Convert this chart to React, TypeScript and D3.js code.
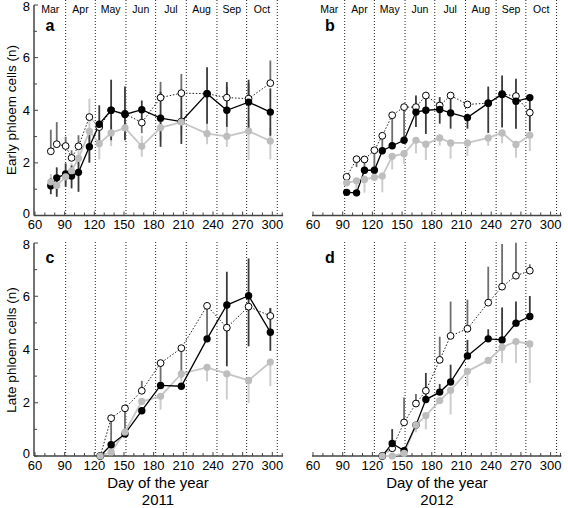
import React from "react";
import * as d3 from "d3";

// ---------- data ----------
const months = ["Mar", "Apr", "May", "Jun", "Jul", "Aug", "Sep", "Oct"];
const monthStart2011 = [60, 91, 121, 152, 182, 213, 244, 274, 305];
const monthStart2012 = [61, 92, 122, 153, 183, 214, 245, 275, 306];
const xTickValues = d3.range(60, 311, 10);
const xLabelValues = [60, 90, 120, 150, 180, 210, 240, 270, 300];
const yTickValues = [0, 1, 2, 3, 4, 5, 6, 7, 8];
const yLabelValues = [0, 2, 4, 6, 8];

// 2011 early phloem (a)
const aDays = [76, 82, 91, 97, 104, 115, 125, 137, 151, 168, 187, 208, 234, 254, 276, 298];
const aBlack = [1.13, 1.43, 1.58, 1.5, 1.64, 2.61, 3.47, 4.0, 3.84, 4.02, 3.7, 3.57, 4.63, 4.0, 4.31, 3.93];
const aOpen = [2.44, 2.71, 2.64, 2.19, 2.63, 3.74, 3.36, 4.0, 3.87, 3.53, 4.48, 4.65, 4.63, 4.48, 4.44, 5.03];
const aGray = [1.28, 1.14, 1.47, 1.7, 2.17, 3.2, 2.73, 3.14, 3.33, 2.63, 3.34, 3.55, 3.11, 3.01, 3.21, 2.83];
const aBlackErr = [[0.32, 0.3], [0.72, 0.4], [0.49, 0.4], [0.47, 0.4], [0.74, 0.5], [0.6, 0.6], [0.86, 0.72], [1.14, 1.16], [0.98, 1.06], [0.4, 0.35], [1.09, 1.0], [0.85, 1.0], [1.14, 1.0], [0.63, 1.07], [1.0, 0.85], [0.9, 0.9]];
const aOpenErr = [[0, 0.82], [0, 0.84], [0, 0.35], [0, 0.29], [0, 0.42], [0, 0], [0, 0], [0, 0], [0, 0], [0.4, 0], [0, 0.6], [0, 0.73], [0, 0], [0, 0.4], [0, 0.6], [0, 0.86]];
const aGrayErr = [[0.3, 0.3], [0.3, 0.3], [0.3, 0.2], [0.3, 0.3], [0.3, 0.3], [1.2, 1.24], [0.6, 0.4], [0.5, 0.4], [0.4, 0.4], [0.4, 0.4], [0.5, 0.5], [0.5, 0.5], [0.4, 0.4], [0.4, 0.4], [1.1, 0.5], [0.7, 0.5]];

// 2012 early phloem (b)
const bDays = [94, 104, 112, 122, 130, 140, 152, 164, 174, 188, 199, 216, 237, 251, 265, 279];
const bBlack = [0.88, 0.86, 1.72, 1.72, 2.46, 2.65, 2.86, 3.93, 4.0, 4.03, 3.9, 3.72, 4.27, 4.6, 4.34, 4.48];
const bOpen = [1.47, 2.14, 2.13, 2.48, 3.03, 3.81, 4.12, 4.12, 4.56, 4.18, 4.56, 4.22, 4.27, 4.62, 4.54, 3.91];
const bGray = [1.24, 1.32, 1.37, 1.45, 1.5, 2.25, 2.35, 2.86, 2.71, 2.95, 2.76, 2.76, 2.95, 3.14, 2.7, 3.05];
const bBlackErr = [[0.1, 0.1], [0.1, 0.1], [0, 0], [0, 0], [0, 0], [0, 0], [0, 0], [0.57, 0.63], [0.9, 0.5], [0.54, 0.47], [0.6, 0.6], [0.42, 0.15], [1.13, 0.63], [1.26, 0.72], [1.04, 0.86], [1.28, 0.08]];
const bOpenErr = [[0, 0], [0.3, 0], [0.41, 0], [0.76, 0], [0.57, 0], [1.16, 0], [1.26, 0], [0, 0], [0, 0], [0.3, 0], [0, 0], [0, 0], [0, 0], [0, 0], [0, 0], [0, 0]];
const bGrayErr = [[0, 0], [0.6, 0], [0.5, 0], [0, 0], [0.62, 0], [0.5, 0], [0.4, 0], [0.5, 0], [0.6, 0], [0.3, 0], [0.6, 0], [0.5, 0], [0.3, 0], [0.4, 0], [0.5, 0], [0.6, 0]];

// 2011 late phloem (c)
const cDays = [126, 137, 151, 168, 187, 208, 234, 254, 276, 298];
const cBlack = [0, 0.42, 0.83, 1.7, 2.65, 2.62, 4.4, 5.67, 6.02, 4.65];
const cOpen = [0, 1.42, 1.79, 2.45, 3.49, 4.05, 5.64, 4.82, 5.61, 5.26];
const cGray = [0, 0.15, 0.9, 2.05, 2.24, 3.09, 3.33, 3.09, 2.84, 3.53];
const cBlackErr = [[0, 0], [0, 0], [0, 0], [0, 0], [0, 0], [0, 0], [0, 0], [2.3, 1.25], [1.9, 1.4], [0.7, 0.9]];
const cOpenErr = [[0, 0], [1.42, 0], [0.95, 0], [0, 0.37], [0.84, 0], [1.1, 0], [1.27, 0], [0, 0], [0, 0], [0, 0.3]];
const cGrayErr = [[0, 0], [0, 0], [0, 0], [0, 0], [0.5, 0], [0.3, 0], [0.53, 0], [0.97, 0], [0.85, 0], [0.9, 0]];

// 2012 late phloem (d)
const dDays = [130, 140, 152, 164, 174, 188, 199, 216, 237, 251, 265, 279];
const dBlack = [0, 0.47, 0.2, 1.16, 2.12, 2.4, 2.78, 3.76, 4.4, 4.36, 4.99, 5.24];
const dOpen = [0, 0.29, 1.26, 1.97, 2.45, 3.61, 4.51, 4.78, 5.76, 6.36, 6.77, 6.96];
const dGray = [0, 0, 0.1, 1.16, 1.52, 2.08, 2.47, 3.18, 3.59, 4.08, 4.3, 4.21];
const dBlackErr = [[0, 0], [0, 0.54], [0, 0], [0, 0], [0, 1.0], [0, 0.3], [0, 0.65], [0, 0.6], [0, 0.36], [0, 1.22], [0, 0.81], [0, 0.77]];
const dOpenErr = [[0, 0], [0, 0], [0, 0.94], [0, 0.36], [0, 0], [0, 0.87], [0, 1.29], [0, 1.09], [0, 1.35], [0, 1.6], [0, 1.24], [0, 0.24]];
const dGrayErr = [[0, 0], [0, 0], [0, 0], [0.27, 0], [0.52, 0], [0, 0], [0.91, 0], [0.56, 0], [0, 0], [0.59, 0], [0.81, 0], [1.47, 0]];

// ---------- layout ----------
const FONT = "'Liberation Sans', Arial, Helvetica, sans-serif";

type Panel = {
  letter: string;
  left: boolean;
  top: boolean;
  days: number[];
  black: number[];
  open: number[];
  gray: number[];
  blackErr: number[][];
  openErr: number[][];
  grayErr: number[][];
  monthStarts: number[];
};

const panels: Panel[] = [
  { letter: "a", left: true, top: true, days: aDays, black: aBlack, open: aOpen, gray: aGray, blackErr: aBlackErr, openErr: aOpenErr, grayErr: aGrayErr, monthStarts: monthStart2011 },
  { letter: "b", left: false, top: true, days: bDays, black: bBlack, open: bOpen, gray: bGray, blackErr: bBlackErr, openErr: bOpenErr, grayErr: bGrayErr, monthStarts: monthStart2012 },
  { letter: "c", left: true, top: false, days: cDays, black: cBlack, open: cOpen, gray: cGray, blackErr: cBlackErr, openErr: cOpenErr, grayErr: cGrayErr, monthStarts: monthStart2011 },
  { letter: "d", left: false, top: false, days: dDays, black: dBlack, open: dOpen, gray: dGray, blackErr: dBlackErr, openErr: dOpenErr, grayErr: dGrayErr, monthStarts: monthStart2012 },
];

function PanelView({ p }: { p: Panel }) {
  const x = d3.scaleLinear().domain([59, 311]).range(p.left ? [34, 283.2] : [312, 561.5]);
  const y = d3.scaleLinear().domain([0, 8]).range(p.top ? [215.5, 5] : [456, 243]);
  const [x0, x1] = x.range();
  const yBase = y(0);
  const dotTop = p.top ? 0 : 242;
  const line = d3
    .line<[number, number]>()
    .x((d) => x(d[0]))
    .y((d) => y(d[1]));
  const pts = (vals: number[]) => p.days.map((d, i) => [d, vals[i]] as [number, number]);

  const errBars = (vals: number[], errs: number[][], color: string, w: number, key: string) =>
    p.days.map((d, i) => {
      const [lo, hi] = errs[i];
      if (lo === 0 && hi === 0) return null;
      return (
        <line
          key={key + i}
          x1={x(d)}
          x2={x(d)}
          y1={y(Math.max(0, vals[i] - lo))}
          y2={y(vals[i] + hi)}
          stroke={color}
          strokeWidth={w}
        />
      );
    });

  return (
    <g>
      {/* month boundaries */}
      {p.monthStarts.slice(1).map((m) => (
        <line key={"m" + m} x1={x(m)} x2={x(m)} y1={dotTop} y2={yBase} stroke="#222" strokeWidth={1} strokeDasharray="1,2" />
      ))}
      {p.top &&
        months.map((m, i) => (
          <text
            key={m}
            x={(x(p.monthStarts[i]) + x(p.monthStarts[i + 1])) / 2}
            y={12.5}
            textAnchor="middle"
            fontSize={10.5}
            fontFamily={FONT}
          >
            {m}
          </text>
        ))}
      <text x={p.left ? 50 : 330} y={p.top ? 30.5 : 263} textAnchor="middle" fontSize={16} fontWeight="bold" fontFamily={FONT}>
        {p.letter}
      </text>

      {/* x axis */}
      <line x1={x0} x2={x1} y1={yBase} y2={yBase} stroke="#444" strokeWidth={1.5} />
      {xTickValues.map((t) => (
        <line key={"xt" + t} x1={x(t)} x2={x(t)} y1={yBase} y2={yBase - (t % 30 === 0 ? 4 : 3)} stroke="#444" strokeWidth={1} />
      ))}
      {xLabelValues.map((t) => (
        <text key={"xl" + t} x={x(t)} y={yBase + 13.5} textAnchor="middle" fontSize={13} fontFamily={FONT}>
          {t}
        </text>
      ))}

      {/* y axis */}
      {p.left && (
        <g>
          <line x1={x0} x2={x0} y1={y(8)} y2={yBase} stroke="#444" strokeWidth={1.5} />
          {yTickValues.map((t) => (
            <line key={"yt" + t} x1={x0} x2={x0 + (t % 2 === 0 ? 4 : 3)} y1={y(t)} y2={y(t)} stroke="#444" strokeWidth={1} />
          ))}
          {yLabelValues.map((t) => (
            <text
              key={"yl" + t}
              x={x0 - 4}
              y={t === 0 ? y(t) + 2 : t === 8 ? y(t) + 5.5 : y(t) + 4.5}
              textAnchor="end"
              fontSize={13}
              fontFamily={FONT}
            >
              {t}
            </text>
          ))}
        </g>
      )}

      {/* error bars */}
      {errBars(p.gray, p.grayErr, "#cdcdcd", 2, "ge")}
      {errBars(p.open, p.openErr, "#6e6e6e", 1.8, "oe")}
      {errBars(p.black, p.blackErr, "#3a3a3a", 1.8, "be")}

      {/* lines */}
      <path d={line(pts(p.gray)) || ""} fill="none" stroke="#c6c6c6" strokeWidth={1.8} />
      <path d={line(pts(p.open)) || ""} fill="none" stroke="#222" strokeWidth={1} strokeDasharray="1.5,1.8" />
      <path d={line(pts(p.black)) || ""} fill="none" stroke="#000" strokeWidth={1.3} />

      {/* markers */}
      {pts(p.open).map((d, i) => (
        <circle key={"o" + i} cx={x(d[0])} cy={y(d[1])} r={3.4} fill="#fff" stroke="#000" strokeWidth={1} />
      ))}
      {pts(p.black).map((d, i) => (
        <circle key={"b" + i} cx={x(d[0])} cy={y(d[1])} r={3.7} fill="#000" />
      ))}
      {pts(p.gray).map((d, i) => (
        <circle key={"g" + i} cx={x(d[0])} cy={y(d[1])} r={3.6} fill="#bdbdbd" />
      ))}
    </g>
  );
}

export default function App() {
  return (
    <svg width={568} height={508} style={{ position: "absolute", left: 0, top: 0, background: "#fff" }}>
      <rect width={568} height={508} fill="#fff" />
      {panels.map((p) => (
        <PanelView key={p.letter} p={p} />
      ))}
      <text transform="translate(16,110) rotate(-90)" textAnchor="middle" fontSize={13.5} fontFamily={FONT}>
        Early phloem cells (n)
      </text>
      <text transform="translate(16,350) rotate(-90)" textAnchor="middle" fontSize={13.5} fontFamily={FONT}>
        Late phloem cells (n)
      </text>
      <text x={158} y={488} textAnchor="middle" fontSize={15} fontFamily={FONT}>
        Day of the year
      </text>
      <text x={158} y={505} textAnchor="middle" fontSize={15} fontFamily={FONT}>
        2011
      </text>
      <text x={437} y={488} textAnchor="middle" fontSize={15} fontFamily={FONT}>
        Day of the year
      </text>
      <text x={437} y={505} textAnchor="middle" fontSize={15} fontFamily={FONT}>
        2012
      </text>
    </svg>
  );
}
